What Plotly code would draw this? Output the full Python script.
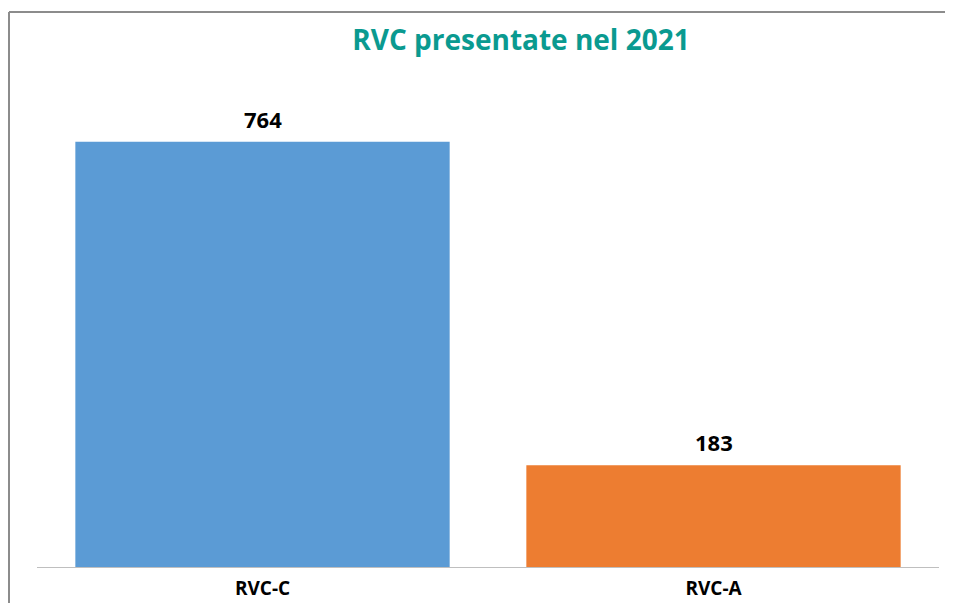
import plotly.graph_objects as go

# data
categories = ["RVC-C", "RVC-A"]
values = [764, 183]
colors = ["#5B9BD5", "#ED7D31"]

# the page body adds an 8px margin, so the figure is a bit smaller than the window
W, H = 945, 595
L, R, T, B = 29, 14, 58, 36
pw, ph = W - L - R, H - T - B


def px_x(x):
    return (x - L) / pw


def px_y(y):
    return (H - B - y) / ph


fig = go.Figure()
fig.add_trace(
    go.Bar(
        x=categories,
        y=values,
        width=0.83,
        marker={'color': colors, 'line': {'width': 0}},
        hoverinfo="x+y",
    )
)

# value labels above the bars
for cat, val in zip(categories, values):
    fig.add_annotation(
        x=cat, y=val, text=f"<b>{val}</b>",
        showarrow=False, yanchor="bottom", yshift=6,
        font={'size': 22, 'color': 'black', 'family': 'Open Sans'},
    )

fig.update_layout(
    width=W,
    height=H,
    margin={'l': L, 'r': R, 't': T, 'b': B},
    paper_bgcolor="white",
    plot_bgcolor="white",
    showlegend=False,
    font={'family': 'Open Sans', 'color': 'black'},
    title={
        'text': "<b>RVC presentate nel 2021</b>",
        'x': 513 / W,
        'xanchor': 'center',
        'y': 1 - 32 / H,
        'yanchor': 'middle',
        'font': {'size': 28, 'color': '#0A9A90', 'family': 'Open Sans'},
    },
)

fig.update_xaxes(
    showline=True,
    linecolor="#BFBFBF",
    linewidth=1,
    showgrid=False,
    ticks="",
    ticklabelstandoff=4,
    automargin=False,
    tickfont={'size': 19, 'color': 'black', 'family': 'Open Sans'},
    tickprefix="<b>",
    ticksuffix="</b>",
    fixedrange=True,
)
fig.update_yaxes(
    range=[0, 900],
    visible=False,
    showgrid=False,
    zeroline=False,
    automargin=False,
    fixedrange=True,
)

# chart frame (Excel-style border, cut off at right and bottom)
border = {'color': '#8C8C8C', 'width': 2}
fig.add_shape(type="line", xref="paper", yref="paper",
              x0=px_x(1), x1=px_x(W + 5), y0=px_y(4), y1=px_y(4), line=border)
fig.add_shape(type="line", xref="paper", yref="paper",
              x0=px_x(1), x1=px_x(1), y0=px_y(4), y1=px_y(H + 5), line=border)

fig.write_html("out.html")
